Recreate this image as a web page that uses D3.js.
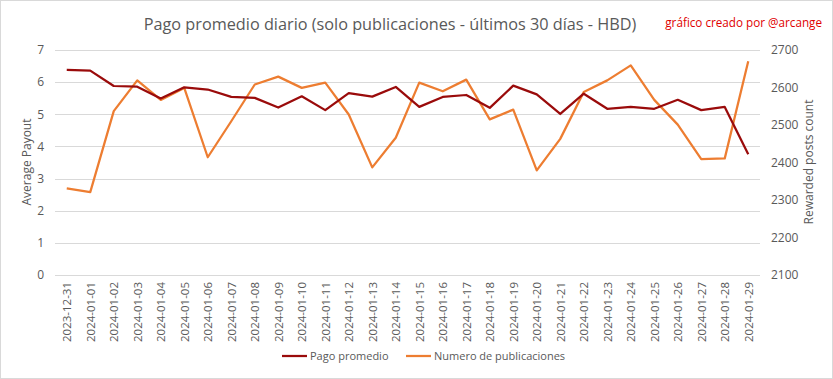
<!DOCTYPE html>
<html>
<head>
<meta charset="utf-8">
<script src="https://cdn.jsdelivr.net/npm/d3@7"></script>
<style>
  html, body { margin: 0; padding: 0; background: #fff; }
  svg { display: block; }
  text { font-family: "Open Sans", "Liberation Sans", sans-serif; fill: #595959; }
</style>
</head>
<body>
<div id="chart"></div>
<script>
const dates = ["2023-12-31","2024-01-01","2024-01-02","2024-01-03","2024-01-04","2024-01-05","2024-01-06","2024-01-07","2024-01-08","2024-01-09","2024-01-10","2024-01-11","2024-01-12","2024-01-13","2024-01-14","2024-01-15","2024-01-16","2024-01-17","2024-01-18","2024-01-19","2024-01-20","2024-01-21","2024-01-22","2024-01-23","2024-01-24","2024-01-25","2024-01-26","2024-01-27","2024-01-28","2024-01-29"];
const pagoPromedio = [6.38,6.36,5.88,5.86,5.49,5.84,5.77,5.54,5.51,5.21,5.56,5.13,5.66,5.55,5.85,5.23,5.54,5.60,5.20,5.89,5.62,5.01,5.64,5.17,5.23,5.17,5.45,5.13,5.23,3.76];
const numeroPublicaciones = [2331,2321,2537,2619,2567,2599,2414,2510,2608,2629,2599,2613,2528,2387,2466,2613,2590,2621,2515,2541,2379,2463,2588,2619,2659,2567,2501,2409,2411,2670];
const leftTicks = [0,1,2,3,4,5,6,7];
const rightTicks = [2100,2200,2300,2400,2500,2600,2700];
const titleText = "Pago promedio diario (solo publicaciones - últimos 30 días - HBD)";
const creditText = "gráfico creado por @arcange";
const seriesNames = ["Pago promedio", "Numero de publicaciones"];
const colors = ["#9a0b0b", "#ed7d31"];

const W = 833, H = 379;
const svg = d3.select("#chart").append("svg").attr("width", W).attr("height", H);

svg.append("rect").attr("x", 0.5).attr("y", 0.5).attr("width", W - 1).attr("height", H - 1)
  .attr("fill", "#fff").attr("stroke", "#d9d9d9");

const x = d3.scalePoint().domain(dates).range([55, 760]).padding(0.5);
const yL = d3.scaleLinear().domain([0, 7]).range([275, 50]);
const yR = d3.scaleLinear().domain([2100, 2700]).range([275, 50]);

// gridlines
svg.append("g").selectAll("line").data(leftTicks).join("line")
  .attr("x1", 55).attr("x2", 760)
  .attr("y1", d => Math.round(yL(d)) + 0.5).attr("y2", d => Math.round(yL(d)) + 0.5)
  .attr("stroke", "#d9d9d9").attr("stroke-width", 1);

// left axis
const gL = svg.append("g").attr("transform", "translate(55,0)")
  .call(d3.axisLeft(yL).tickValues(leftTicks).tickFormat(d3.format("d")).tickSize(0).tickPadding(11));
gL.select(".domain").remove();
gL.selectAll("text").style("font-size", "12px").attr("fill", "#595959").style("font-family", "Open Sans");

// right axis
const gR = svg.append("g").attr("transform", "translate(760,0)")
  .call(d3.axisRight(yR).tickValues(rightTicks).tickFormat(d3.format("d")).tickSize(0).tickPadding(11));
gR.select(".domain").remove();
gR.selectAll("text").style("font-size", "12px").attr("fill", "#595959").style("font-family", "Open Sans");

// x axis
const gX = svg.append("g").attr("transform", "translate(0,275)")
  .call(d3.axisBottom(x).tickSize(0).tickPadding(0));
gX.select(".domain").remove();
gX.selectAll("text")
  .style("font-size", "11.5px").attr("fill", "#595959").style("font-family", "Open Sans")
  .attr("transform", "rotate(-90)")
  .attr("text-anchor", "end")
  .attr("dy", "0.35em").attr("dx", "0").attr("x", -7).attr("y", 0);

// lines
const lineL = d3.line().x((d, i) => x(dates[i])).y(d => yL(d));
const lineR = d3.line().x((d, i) => x(dates[i])).y(d => yR(d));
svg.append("path").datum(numeroPublicaciones).attr("d", lineR)
  .attr("fill", "none").attr("stroke", colors[1]).attr("stroke-width", 2.25).attr("stroke-linejoin", "round");
svg.append("path").datum(pagoPromedio).attr("d", lineL)
  .attr("fill", "none").attr("stroke", colors[0]).attr("stroke-width", 2.25).attr("stroke-linejoin", "round");

// title
const t = svg.append("text").attr("x", 390).attr("y", 30).attr("text-anchor", "middle")
  .style("font-size", "19px").text(titleText);
const tw = t.node().getComputedTextLength();
t.style("font-size", (19 * 493 / tw) + "px");

const c = svg.append("text").attr("x", 822).attr("y", 27).attr("text-anchor", "end")
  .style("font-size", "13px").style("fill", "#e00000").text(creditText);
const cw = c.node().getComputedTextLength();
c.style("font-size", (13 * 157 / cw) + "px");

// axis titles
svg.append("text").attr("transform", "translate(27,162) rotate(-90)").attr("text-anchor", "middle")
  .attr("dy", "0.35em").style("font-size", "12px").text("Average Payout");
svg.append("text").attr("transform", "translate(809,162) rotate(-90)").attr("text-anchor", "middle")
  .attr("dy", "0.35em").style("font-size", "12px").text("Rewarded posts count");

// legend
const legX = [282, 406];
seriesNames.forEach((n, i) => {
  svg.append("line").attr("x1", legX[i]).attr("x2", legX[i] + 25).attr("y1", 356).attr("y2", 356)
    .attr("stroke", colors[i]).attr("stroke-width", 2.25);
  svg.append("text").attr("x", legX[i] + 28).attr("y", 356).attr("dy", "0.35em")
    .style("font-size", "11px").text(n);
});
</script>
</body>
</html>
